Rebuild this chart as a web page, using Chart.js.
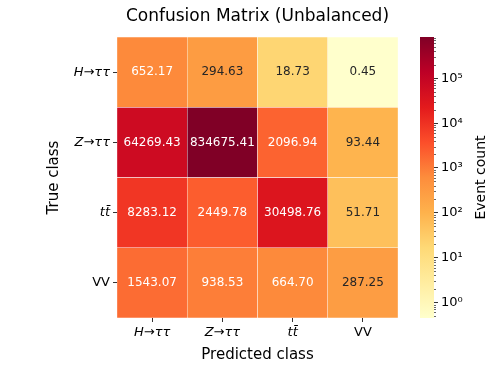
<!DOCTYPE html>
<html>
<head>
<meta charset="utf-8">
<script src="https://cdn.jsdelivr.net/npm/chart.js@4/dist/chart.umd.min.js"></script>
<style>
  html, body { margin: 0; padding: 0; background: #fff; }
  #wrap { position: relative; width: 498px; height: 374px; }
  #main { position: absolute; left: 0; top: 0; }
  #cbar { position: absolute; left: 400px; top: 0; }
</style>
</head>
<body>
<div id="wrap">
  <canvas id="main" width="498" height="374"></canvas>
  <canvas id="cbar" width="98" height="374"></canvas>
</div>
<script>
// class labels (rows = true class, columns = predicted class)
const predLabels = ['H→ττ', 'Z→ττ', 'tt\u0304', 'VV'];
const trueLabels = ['H→ττ', 'Z→ττ', 'tt\u0304', 'VV'];

// event counts, one array per true class
const rowHtautau = [652.17, 294.63, 18.73, 0.45];
const rowZtautau = [64269.43, 834675.41, 2096.94, 93.44];
const rowTtbar = [8283.12, 2449.78, 30498.76, 51.71];
const rowVV = [1543.07, 938.53, 664.70, 287.25];
const rows = [rowHtautau, rowZtautau, rowTtbar, rowVV];

// colour bar labelled decades
const cbExponents = [0, 1, 2, 3, 4, 5];

const FONT = "'DejaVu Sans', sans-serif";
const YLORRD = ['#ffffcc', '#ffeda0', '#fed976', '#feb24c', '#fd8d3c', '#fc4e2a', '#e31a1c', '#bd0026', '#800026'];

const allVals = rows.flat();
const vmin = Math.min(...allVals);
const vmax = Math.max(...allVals);

function hexToRgb(h) {
  return [1, 3, 5].map(i => parseInt(h.substr(i, 2), 16));
}
const stops = YLORRD.map(hexToRgb);

function norm(v) {
  return (Math.log10(v) - Math.log10(vmin)) / (Math.log10(vmax) - Math.log10(vmin));
}

function cmapRgb(t) {
  t = Math.min(1, Math.max(0, t));
  t = Math.floor(t * 255.999) / 255;
  const s = t * (stops.length - 1);
  const i = Math.min(stops.length - 2, Math.floor(s));
  const f = s - i;
  return stops[i].map((c, k) => Math.round(c + (stops[i + 1][k] - c) * f));
}

function cmap(t) {
  const c = cmapRgb(t);
  return `rgb(${c[0]},${c[1]},${c[2]})`;
}

// same rule as seaborn for annotation colour
function textColor(v) {
  const lin = cmapRgb(norm(v)).map(c => {
    c /= 255;
    return c <= 0.03928 ? c / 12.92 : Math.pow((c + 0.055) / 1.055, 2.4);
  });
  const lum = 0.2126 * lin[0] + 0.7152 * lin[1] + 0.0722 * lin[2];
  return lum > 0.408 ? '#262626' : '#ffffff';
}

const annotate = {
  id: 'annotate',
  afterDatasetsDraw(chart) {
    const { ctx, scales: { x, y } } = chart;
    ctx.save();
    ctx.font = `12px ${FONT}`;
    ctx.textAlign = 'center';
    ctx.textBaseline = 'middle';
    rows.forEach((vals, r) => {
      vals.forEach((v, c) => {
        ctx.fillStyle = textColor(v);
        ctx.fillText(v.toFixed(2), x.getPixelForValue(c), y.getPixelForValue(r));
      });
    });
    ctx.restore();
  }
};

const tickFont = ctx => ({ family: FONT, size: 13, style: ctx.index < 3 ? 'italic' : 'normal' });

new Chart(document.getElementById('main'), {
  type: 'bar',
  data: {
    labels: predLabels,
    datasets: rows.map((vals, r) => ({
      label: trueLabels[r],
      data: vals.map(() => [r - 0.5, r + 0.5]),
      backgroundColor: vals.map(v => cmap(norm(v))),
      borderColor: 'rgba(255,255,255,0.75)',
      borderWidth: 0.5,
      borderSkipped: false,
      barPercentage: 1,
      categoryPercentage: 1,
      grouped: false
    }))
  },
  options: {
    responsive: false,
    animation: false,
    layout: { padding: { left: 40, right: 100, top: 0, bottom: 0 } },
    plugins: {
      legend: { display: false },
      tooltip: { enabled: false },
      title: {
        display: true,
        fullSize: false,
        text: 'Confusion Matrix (Unbalanced)',
        color: '#000',
        font: { family: FONT, size: 17, weight: 'normal' },
        padding: { top: 6, bottom: 10.6 }
      }
    },
    scales: {
      x: {
        grid: { display: true, offset: false, drawOnChartArea: false, tickLength: 4, tickColor: '#000', tickWidth: 0.8 },
        border: { display: false },
        ticks: { color: '#000', font: tickFont, padding: 3, maxRotation: 0 },
        title: { display: true, text: 'Predicted class', color: '#000', font: { family: FONT, size: 15 }, padding: { top: 0, bottom: 10 } },
        afterFit: s => { s.height = 56; }
      },
      y: {
        type: 'linear',
        min: -0.5,
        max: 3.5,
        reverse: true,
        afterBuildTicks: s => { s.ticks = trueLabels.map((_, i) => ({ value: i })); },
        grid: { display: true, drawOnChartArea: false, tickLength: 4, tickColor: '#000', tickWidth: 0.8 },
        border: { display: false },
        ticks: { color: '#000', font: tickFont, padding: 3, callback: v => trueLabels[v] },
        title: { display: true, text: 'True class', color: '#000', font: { family: FONT, size: 15 }, padding: { top: 5, bottom: 0 } },
        afterFit: s => { s.width = 77; }
      }
    }
  },
  plugins: [annotate]
});

// colour bar
const SUP = '⁰¹²³⁴⁵⁶⁷⁸⁹';
function isDecade(v) {
  const l = Math.log10(v);
  return Math.abs(l - Math.round(l)) < 1e-9;
}

const cbExtras = {
  id: 'cbExtras',
  afterDraw(chart) {
    const { ctx, chartArea, scales: { y } } = chart;
    ctx.save();
    ctx.strokeStyle = '#000';
    ctx.lineWidth = 0.6;
    y.ticks.forEach(t => {
      if (isDecade(t.value)) return;
      const py = Math.round(y.getPixelForValue(t.value)) + 0.5;
      ctx.beginPath();
      ctx.moveTo(chartArea.right, py);
      ctx.lineTo(chartArea.right + 2, py);
      ctx.stroke();
    });
    ctx.translate(81, (chartArea.top + chartArea.bottom) / 2);
    ctx.rotate(-Math.PI / 2);
    ctx.fillStyle = '#000';
    ctx.font = `14px ${FONT}`;
    ctx.textAlign = 'center';
    ctx.textBaseline = 'middle';
    ctx.fillText('Event count', 0, 0);
    ctx.restore();
  }
};

new Chart(document.getElementById('cbar'), {
  type: 'bar',
  data: {
    labels: [''],
    datasets: [{
      data: [[vmin, vmax]],
      backgroundColor: ctx => {
        const ca = ctx.chart.chartArea;
        if (!ca) return YLORRD[0];
        const g = ctx.chart.ctx.createLinearGradient(0, ca.bottom, 0, ca.top);
        YLORRD.forEach((c, i) => g.addColorStop(i / (YLORRD.length - 1), c));
        return g;
      },
      borderWidth: 0,
      barPercentage: 1,
      categoryPercentage: 1
    }]
  },
  options: {
    responsive: false,
    animation: false,
    layout: { padding: { left: 20, right: 0, top: 37, bottom: 56 } },
    plugins: { legend: { display: false }, tooltip: { enabled: false } },
    scales: {
      x: { display: false },
      y: {
        type: 'logarithmic',
        position: 'right',
        min: vmin,
        max: vmax,
        afterBuildTicks: s => {
          const t = [];
          for (let e = -1; e <= 6; e++) {
            for (let m = 1; m <= 9; m++) {
              const v = m * Math.pow(10, e);
              if (v >= vmin && v <= vmax) t.push({ value: v });
            }
          }
          s.ticks = t;
        },
        grid: {
          display: true,
          drawOnChartArea: false,
          tickLength: 4,
          tickWidth: 0.8,
          tickColor: ctx => (ctx.tick && isDecade(ctx.tick.value) ? '#000' : 'rgba(0,0,0,0)')
        },
        border: { display: false },
        ticks: {
          autoSkip: false,
          color: '#000',
          padding: 3,
          font: { family: FONT, size: 13 },
          callback: v => {
            if (!isDecade(v)) return '';
            const e = Math.round(Math.log10(v));
            return cbExponents.includes(e) ? '10' + SUP[e] : '';
          }
        },
        afterFit: s => { s.width = 64; }
      }
    }
  },
  plugins: [cbExtras]
});
</script>
</body>
</html>
